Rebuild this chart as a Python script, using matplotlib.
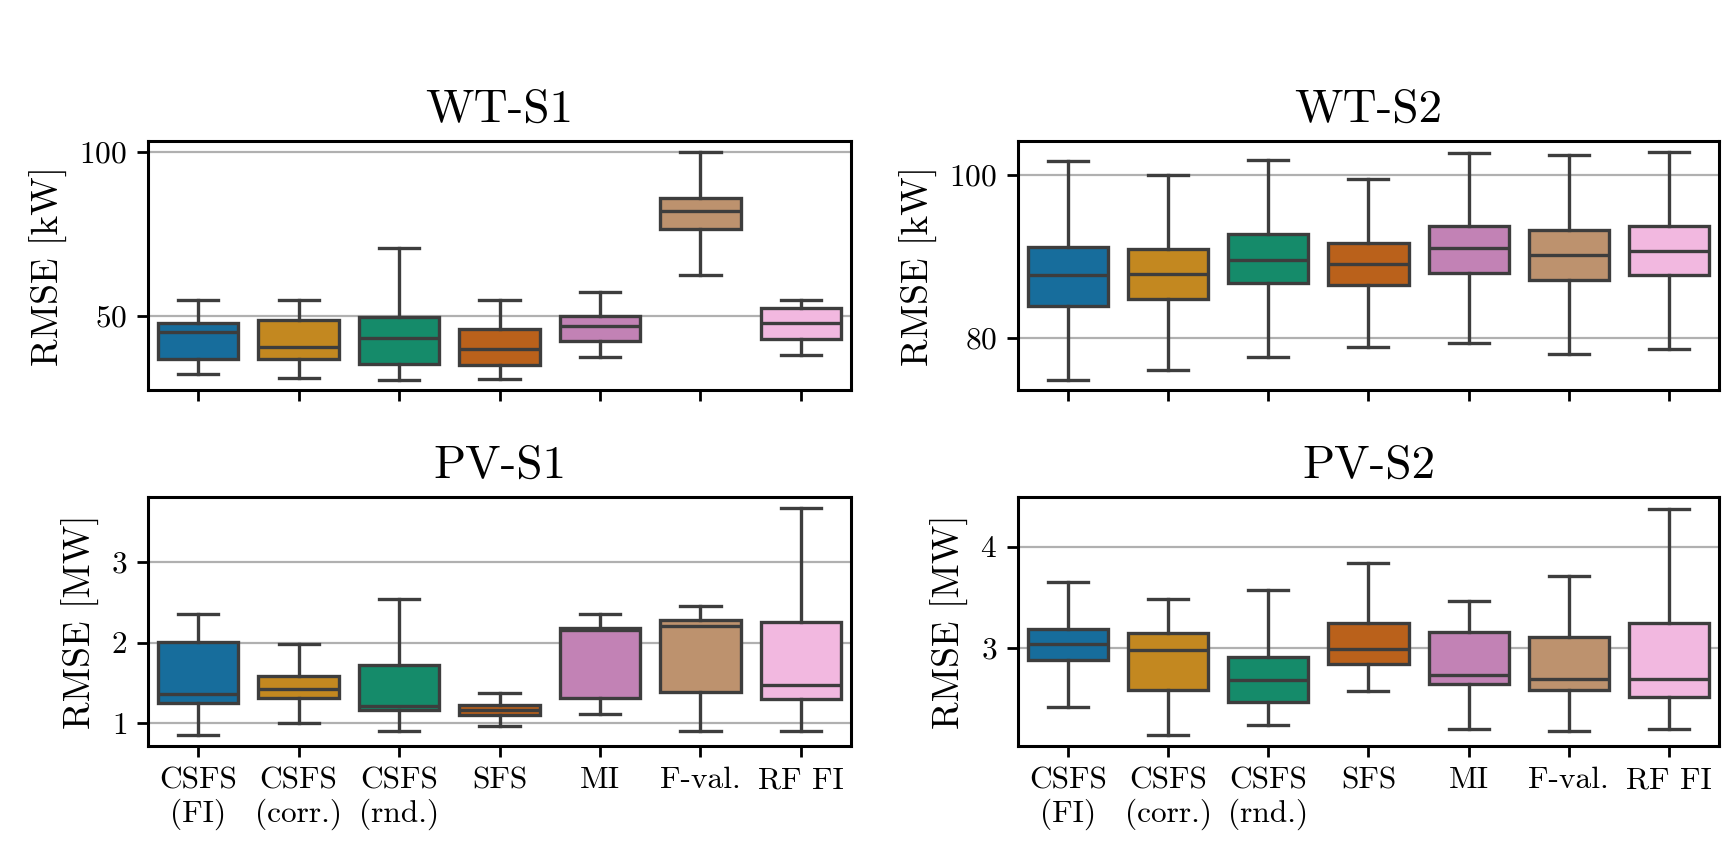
import matplotlib
matplotlib.use('Agg')
import matplotlib.pyplot as plt
import seaborn as sns

plt.rcParams['font.family'] = 'cmr10'
plt.rcParams['mathtext.fontset'] = 'cm'
plt.rcParams['axes.formatter.use_mathtext'] = True

methods = ['CSFS\n(FI)', 'CSFS\n(corr.)', 'CSFS\n(rnd.)', 'SFS', 'MI', 'F-val.', 'RF FI']

# box statistics: lower whisker, q1, median, q3, upper whisker
wt_s1_lo = [32.2, 31.1, 30.5, 30.6, 37.4, 62.4, 38.1]
wt_s1_q1 = [36.7, 36.9, 35.2, 34.8, 42.4, 76.5, 43.0]
wt_s1_med = [44.9, 40.3, 43.2, 39.8, 46.9, 81.9, 47.7]
wt_s1_q3 = [47.7, 48.6, 49.6, 45.9, 50.0, 86.0, 52.3]
wt_s1_hi = [54.9, 54.9, 70.8, 54.9, 57.2, 99.8, 54.9]

wt_s2_lo = [74.8, 76.0, 77.6, 78.9, 79.4, 78.0, 78.6]
wt_s2_q1 = [83.9, 84.8, 86.7, 86.5, 87.9, 87.1, 87.7]
wt_s2_med = [87.7, 87.8, 89.5, 89.1, 91.0, 90.2, 90.7]
wt_s2_q3 = [91.1, 90.9, 92.8, 91.7, 93.8, 93.3, 93.7]
wt_s2_hi = [101.8, 100.0, 101.9, 99.5, 102.7, 102.5, 102.9]

pv_s1_lo = [0.86, 1.00, 0.90, 0.97, 1.12, 0.91, 0.91]
pv_s1_q1 = [1.25, 1.32, 1.16, 1.10, 1.32, 1.39, 1.30]
pv_s1_med = [1.36, 1.43, 1.21, 1.16, 2.15, 2.21, 1.48]
pv_s1_q3 = [2.01, 1.58, 1.72, 1.23, 2.18, 2.28, 2.25]
pv_s1_hi = [2.35, 1.98, 2.54, 1.38, 2.35, 2.45, 3.66]

pv_s2_lo = [2.42, 2.14, 2.24, 2.57, 2.20, 2.18, 2.20]
pv_s2_q1 = [2.88, 2.58, 2.46, 2.84, 2.64, 2.58, 2.51]
pv_s2_med = [3.04, 2.98, 2.68, 2.99, 2.73, 2.69, 2.69]
pv_s2_q3 = [3.19, 3.15, 2.91, 3.25, 3.16, 3.11, 3.25]
pv_s2_hi = [3.65, 3.48, 3.57, 3.84, 3.46, 3.71, 4.37]

colors = sns.color_palette('colorblind', 7, desat=0.75)
line_color = '#3d3d3d'


def draw_panel(ax, title, ylabel, lo, q1, med, q3, hi, yticks, ylim, show_labels):
    stats = []
    for i in range(len(methods)):
        stats.append({'whislo': lo[i], 'q1': q1[i], 'med': med[i], 'q3': q3[i],
                      'whishi': hi[i], 'fliers': []})
    lw = 1.2
    bp = ax.bxp(stats, positions=range(len(methods)), widths=0.8, patch_artist=True,
                showfliers=False,
                boxprops=dict(edgecolor=line_color, linewidth=lw),
                medianprops=dict(color=line_color, linewidth=lw),
                whiskerprops=dict(color=line_color, linewidth=lw),
                capprops=dict(color=line_color, linewidth=lw),
                capwidths=0.4)
    for patch, c in zip(bp['boxes'], colors):
        patch.set_facecolor(c)
    ax.set_title(title, fontsize=17, pad=7)
    ax.set_ylabel(ylabel, fontsize=13.5)
    ax.set_yticks(yticks)
    ax.set_ylim(ylim)
    ax.set_xlim(-0.5, len(methods) - 0.5)
    ax.set_xticks(range(len(methods)))
    if show_labels:
        ax.set_xticklabels(methods, fontsize=11.3)
    else:
        ax.set_xticklabels([])
    ax.tick_params(axis='y', labelsize=11.3)
    ax.tick_params(axis='both', length=4, width=1.0)
    ax.yaxis.grid(True, color='#b0b0b0', linewidth=0.8)
    ax.set_axisbelow(True)
    for s in ax.spines.values():
        s.set_linewidth(1.1)


fig = plt.figure(figsize=(8.665, 4.245), dpi=200)
ax1 = fig.add_axes([0.0854, 0.5406, 0.4057, 0.2933])
ax2 = fig.add_axes([0.5874, 0.5406, 0.4045, 0.2933])
ax3 = fig.add_axes([0.0854, 0.1213, 0.4057, 0.2933])
ax4 = fig.add_axes([0.5874, 0.1213, 0.4045, 0.2933])

draw_panel(ax1, 'WT-S1', 'RMSE [kW]', wt_s1_lo, wt_s1_q1, wt_s1_med, wt_s1_q3, wt_s1_hi,
           [50, 100], (27.3, 103.3), False)
draw_panel(ax2, 'WT-S2', 'RMSE [kW]', wt_s2_lo, wt_s2_q1, wt_s2_med, wt_s2_q3, wt_s2_hi,
           [80, 100], (73.55, 104.2), False)
draw_panel(ax3, 'PV-S1', 'RMSE [MW]', pv_s1_lo, pv_s1_q1, pv_s1_med, pv_s1_q3, pv_s1_hi,
           [1, 2, 3], (0.72, 3.80), True)
draw_panel(ax4, 'PV-S2', 'RMSE [MW]', pv_s2_lo, pv_s2_q1, pv_s2_med, pv_s2_q3, pv_s2_hi,
           [3, 4], (2.03, 4.49), True)

fig.savefig('out.png', dpi=200)
